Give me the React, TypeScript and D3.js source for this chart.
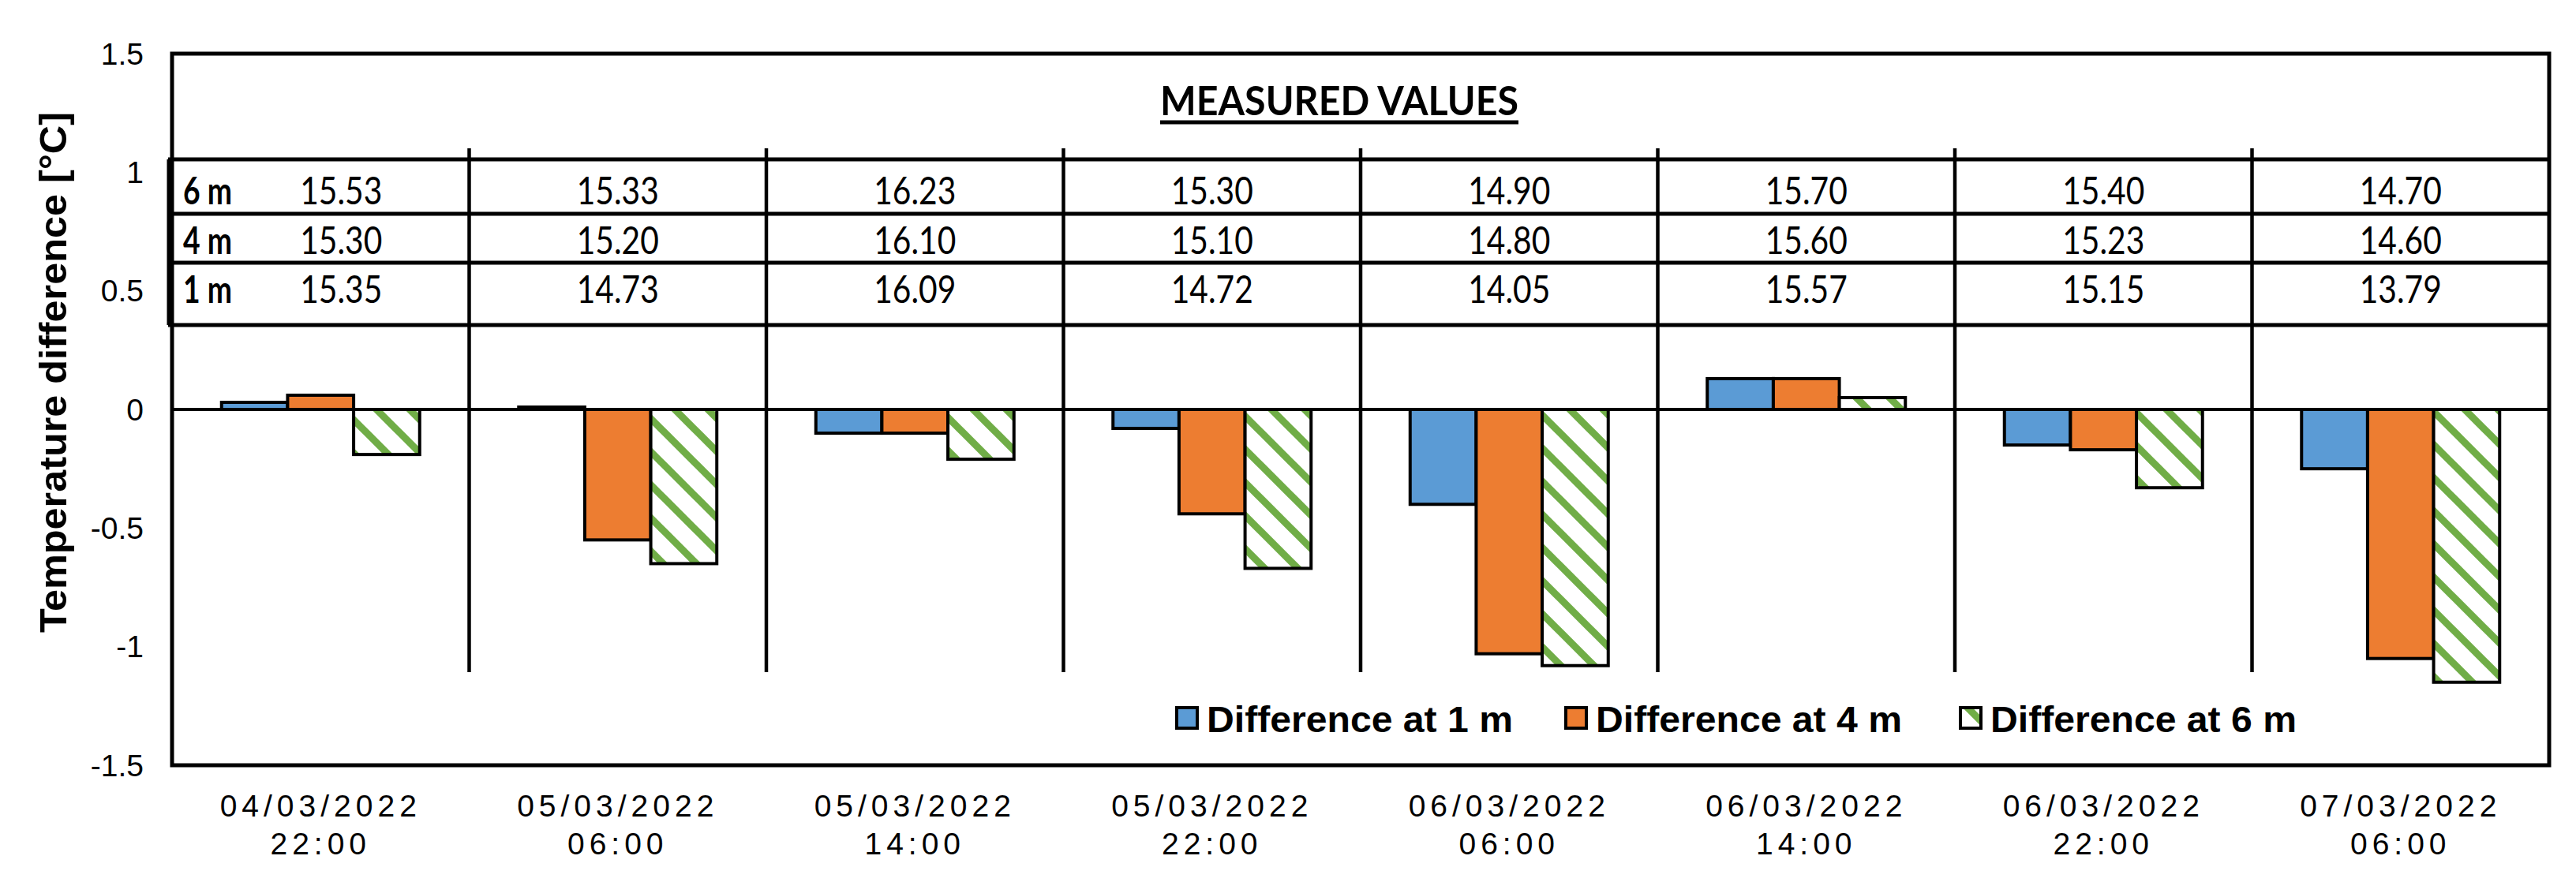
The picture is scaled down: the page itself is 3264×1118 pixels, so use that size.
import React from "react";
import * as d3 from "d3";

const categories = [
  ["04/03/2022", "22:00"],
  ["05/03/2022", "06:00"],
  ["05/03/2022", "14:00"],
  ["05/03/2022", "22:00"],
  ["06/03/2022", "06:00"],
  ["06/03/2022", "14:00"],
  ["06/03/2022", "22:00"],
  ["07/03/2022", "06:00"],
];
const seriesNames = ["Difference at 1 m", "Difference at 4 m", "Difference at 6 m"];
const diff1m = [0.03, 0.01, -0.1, -0.08, -0.4, 0.13, -0.15, -0.25];
const diff4m = [0.06, -0.55, -0.1, -0.44, -1.03, 0.13, -0.17, -1.05];
const diff6m = [-0.19, -0.65, -0.21, -0.67, -1.08, 0.05, -0.33, -1.15];
const measured6m = ["15.53", "15.33", "16.23", "15.30", "14.90", "15.70", "15.40", "14.70"];
const measured4m = ["15.30", "15.20", "16.10", "15.10", "14.80", "15.60", "15.23", "14.60"];
const measured1m = ["15.35", "14.73", "16.09", "14.72", "14.05", "15.57", "15.15", "13.79"];
const rowLabels = ["6 m", "4 m", "1 m"];
const yTicks = [1.5, 1, 0.5, 0, -0.5, -1, -1.5];
const tableTitle = "MEASURED VALUES";
const yTitle = "Temperature difference [°C]";

const W = 3264;
const H = 1118;
const L = 218, R = 3230, T = 68, B = 970;
const colors = ["#5B9BD5", "#ED7D31", "url(#hatch6)"];
const ARIAL = "'Liberation Sans', Arial, sans-serif";
const CAL = "Lato, 'Open Sans', sans-serif";

export default function App() {
  const series = [diff1m, diff4m, diff6m];
  const idx = categories.map((_, i) => String(i));
  const x = d3.scaleBand<string>().domain(idx).range([L, R]).paddingInner(0).paddingOuter(0);
  const x1 = d3
    .scaleBand<string>()
    .domain(seriesNames)
    .range([0, x.bandwidth()])
    .paddingInner(0)
    .paddingOuter(0.75);
  const y = d3.scaleLinear().domain([-1.5, 1.5]).range([B, T]);
  const y0 = y(0);

  const tableTop = 202, tableBottom = 412;
  const rowLines = [271, 333];
  const rowBaselines = [259, 322, 384];
  const measured = [measured6m, measured4m, measured1m];

  return (
    <svg
      width={W}
      height={H}
      style={{ position: "absolute", left: 0, top: 0, background: "#fff" }}
    >
      <defs>
        <pattern id="hatch6" patternUnits="userSpaceOnUse" width={42} height={42}>
          <rect width={42} height={42} fill="#fff" />
          <path
            d="M-21,-21 L63,63 M-21,21 L21,63 M21,-21 L63,21"
            stroke="#70AD47"
            strokeWidth={9}
          />
        </pattern>
      </defs>
      <rect x={0} y={0} width={W} height={H} fill="#fff" />

      {/* y tick labels */}
      {yTicks.map((t) => (
        <text
          key={t}
          x={182}
          y={y(t)}
          dy="0.35em"
          textAnchor="end"
          fontFamily={ARIAL}
          fontSize={39}
          fill="#000"
        >
          {t}
        </text>
      ))}

      {/* y title */}
      <text
        transform={`translate(67,472) rotate(-90)`}
        textAnchor="middle"
        dy="0.35em"
        fontFamily={ARIAL}
        fontWeight="bold"
        fontSize={48}
        textLength={660}
        lengthAdjust="spacingAndGlyphs"
      >
        {yTitle}
      </text>

      {/* zero line */}
      <line x1={L} x2={R} y1={y0} y2={y0} stroke="#000" strokeWidth={4} />

      {/* separators */}
      {idx.slice(1).map((c) => (
        <line
          key={c}
          x1={x(c)!}
          x2={x(c)!}
          y1={188}
          y2={852}
          stroke="#000"
          strokeWidth={4.5}
        />
      ))}

      {/* bars */}
      {idx.map((c, i) =>
        series.map((s, k) => {
          const v = s[i];
          const top = Math.min(y(v), y0);
          const h = Math.abs(y(v) - y0);
          return (
            <rect
              key={c + "-" + k}
              x={x(c)! + x1(seriesNames[k])!}
              y={top}
              width={x1.bandwidth()}
              height={h}
              fill={colors[k]}
              stroke="#000"
              strokeWidth={4}
            />
          );
        })
      )}

      {/* table */}
      {[tableTop, ...rowLines, tableBottom].map((ly, i) => (
        <line key={"h" + i} x1={213} x2={R + 2} y1={ly} y2={ly} stroke="#000" strokeWidth={5} />
      ))}
      <line x1={214} x2={214} y1={tableTop} y2={tableBottom} stroke="#000" strokeWidth={5} />
      {rowLabels.map((lab, r) => (
        <text
          key={lab}
          x={232}
          y={rowBaselines[r]}
          fontFamily={CAL}
          fontWeight="bold"
          fontSize={48}
          textLength={62}
          lengthAdjust="spacingAndGlyphs"
        >
          {lab}
        </text>
      ))}
      {measured.map((row, r) =>
        row.map((val, i) => {
          const cx = x(String(i))! + x.bandwidth() / 2 + (i === 0 ? 26 : 0);
          return (
            <text
              key={r + "-" + i}
              x={cx}
              y={rowBaselines[r]}
              textAnchor="middle"
              fontFamily={CAL}
              fontSize={48}
              textLength={104}
              lengthAdjust="spacingAndGlyphs"
            >
              {val}
            </text>
          );
        })
      )}
      <text
        x={1697}
        y={146}
        textAnchor="middle"
        fontFamily={CAL}
        fontWeight="bold"
        fontSize={52}
        textLength={454}
        lengthAdjust="spacingAndGlyphs"
      >
        {tableTitle}
      </text>
      <line x1={1470} x2={1924} y1={155} y2={155} stroke="#000" strokeWidth={5} />

      {/* plot border */}
      <rect x={L} y={T} width={R - L} height={B - T} fill="none" stroke="#000" strokeWidth={5} />

      {/* x labels */}
      {idx.map((c, i) => {
        const cx = x(c)! + x.bandwidth() / 2;
        return (
          <g key={"xl" + c}>
            <text
              x={cx}
              y={1035}
              textAnchor="middle"
              fontFamily={ARIAL}
              fontSize={39}
              letterSpacing={6}
            >
              {categories[i][0]}
            </text>
            <text
              x={cx}
              y={1083}
              textAnchor="middle"
              fontFamily={ARIAL}
              fontSize={39}
              letterSpacing={6}
            >
              {categories[i][1]}
            </text>
          </g>
        );
      })}

      {/* legend */}
      {seriesNames.map((name, k) => {
        const lx = [1491, 1984, 2484][k];
        return (
          <g key={name}>
            <rect x={lx} y={897} width={26} height={26} fill={colors[k]} stroke="#000" strokeWidth={4} />
            <text
              x={lx + 38}
              y={928}
              fontFamily={ARIAL}
              fontWeight="bold"
              fontSize={46}
              textLength={388}
              lengthAdjust="spacingAndGlyphs"
            >
              {name}
            </text>
          </g>
        );
      })}
    </svg>
  );
}
